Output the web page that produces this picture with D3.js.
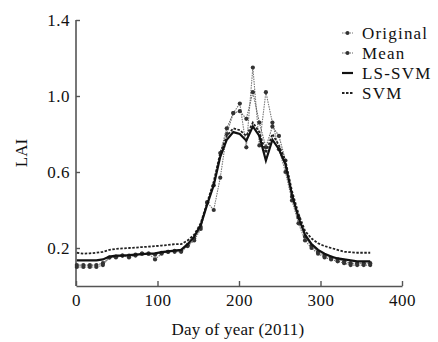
<!DOCTYPE html>
<html>
<head>
<meta charset="utf-8">
<script src="https://cdn.jsdelivr.net/npm/d3@7"></script>
<style>
  body { margin: 0; background: #fff; }
  svg text { font-family: "Liberation Serif", "DejaVu Serif", serif; fill: #111; }
</style>
</head>
<body>
<svg id="chart"></svg>
<script>
// 8-day composites for 2011
const days = d3.range(1, 362, 8);

const original = [0.10, 0.10, 0.10, 0.10, 0.11, 0.15, 0.15, 0.16, 0.15, 0.16, 0.17, 0.17, 0.14, 0.17, 0.18, 0.18,
  0.18, 0.21, 0.24, 0.30, 0.44, 0.40, 0.57, 0.80, 0.91, 0.96, 0.73, 1.15, 0.74, 1.02, 0.86, 0.72,
  0.60, 0.45, 0.33, 0.24, 0.20, 0.17, 0.15, 0.14, 0.13, 0.12, 0.11, 0.11, 0.11, 0.11];

const mean = [0.11, 0.11, 0.11, 0.11, 0.12, 0.15, 0.155, 0.16, 0.16, 0.165, 0.17, 0.17, 0.165, 0.175, 0.18, 0.185,
  0.185, 0.215, 0.25, 0.31, 0.44, 0.53, 0.70, 0.83, 0.91, 0.92, 0.88, 1.02, 0.86, 0.73, 0.84, 0.79,
  0.66, 0.47, 0.36, 0.26, 0.21, 0.18, 0.16, 0.15, 0.14, 0.13, 0.12, 0.12, 0.12, 0.12];

const lssvm = [0.135, 0.135, 0.135, 0.135, 0.14, 0.155, 0.16, 0.16, 0.162, 0.165, 0.168, 0.17, 0.172, 0.178, 0.182, 0.186,
  0.19, 0.22, 0.26, 0.32, 0.43, 0.53, 0.68, 0.77, 0.81, 0.80, 0.765, 0.84, 0.79, 0.66, 0.77, 0.72,
  0.64, 0.48, 0.36, 0.27, 0.22, 0.19, 0.17, 0.155, 0.145, 0.14, 0.135, 0.13, 0.13, 0.13];

const svm = [0.175, 0.17, 0.172, 0.175, 0.18, 0.19, 0.195, 0.198, 0.20, 0.202, 0.205, 0.207, 0.21, 0.213, 0.216, 0.22,
  0.22, 0.24, 0.27, 0.33, 0.44, 0.55, 0.70, 0.79, 0.83, 0.82, 0.79, 0.86, 0.81, 0.70, 0.80, 0.74,
  0.66, 0.50, 0.38, 0.29, 0.25, 0.225, 0.21, 0.20, 0.19, 0.18, 0.178, 0.175, 0.175, 0.175];

const yTicks = [0.2, 0.6, 1.0, 1.4];
const xTicks = [0, 100, 200, 300, 400];
const legendLabels = ['Original', 'Mean', 'LS-SVM', 'SVM'];

const width = 438, height = 342;
const margin = { top: 20, right: 36, bottom: 56, left: 76 };
const innerW = width - margin.left - margin.right;
const innerH = height - margin.top - margin.bottom;

const svg = d3.select('#chart').attr('width', width).attr('height', height);
const chart = svg.append('g').attr('transform', `translate(${margin.left},${margin.top})`);

const x = d3.scaleLinear().domain([0, 400]).range([0, innerW]);
const y = d3.scaleLinear().domain([0, 1.4]).range([innerH, 0]);

// axes, ticks point inwards
const xAxis = d3.axisBottom(x).tickValues(xTicks).tickSizeInner(-5).tickSizeOuter(0).tickPadding(8);
const yAxis = d3.axisLeft(y).tickValues(yTicks).tickFormat(d3.format('.1f')).tickSizeInner(-4).tickSizeOuter(0).tickPadding(6);

const xAxisG = chart.append('g').attr('transform', `translate(0,${innerH})`).call(xAxis);
const yAxisG = chart.append('g').call(yAxis);
[xAxisG, yAxisG].forEach(g => {
  g.select('.domain').attr('stroke', '#555').attr('stroke-width', 1.6);
  g.selectAll('.tick line').attr('stroke', '#555').attr('stroke-width', 1.4);
  g.selectAll('.tick text')
    .style('font-family', '"Liberation Serif", serif')
    .style('font-size', '17px')
    .style('letter-spacing', '0.5px')
    .attr('fill', '#111');
});
yAxisG.select('.domain').attr('d', `M0,${innerH}V${y(1.4)}`);

// axis titles
svg.append('text')
  .attr('x', margin.left + x(200) - 1)
  .attr('y', 335)
  .attr('text-anchor', 'middle')
  .style('font-size', '17px')
  .style('letter-spacing', '0.2px')
  .text('Day of year (2011)');

svg.append('text')
  .attr('transform', `translate(27,153) rotate(-90)`)
  .attr('text-anchor', 'middle')
  .style('font-size', '17px')
  .text('LAI');

const line = d3.line().x((d, i) => x(days[i])).y(d => y(d));

const series = [
  { name: 'Original', values: original, stroke: '#777', width: 1.1, dash: '1.5,1', marker: true },
  { name: 'Mean', values: mean, stroke: '#666', width: 1.1, dash: '1.5,1', marker: true },
  { name: 'SVM', values: svm, stroke: '#222', width: 1.8, dash: '2.5,1.5', marker: false },
  { name: 'LS-SVM', values: lssvm, stroke: '#111', width: 2.2, dash: null, marker: false }
];

series.forEach(s => {
  chart.append('path')
    .datum(s.values)
    .attr('fill', 'none')
    .attr('stroke', s.stroke)
    .attr('stroke-width', s.width)
    .attr('stroke-dasharray', s.dash)
    .attr('d', line);
  if (s.marker) {
    chart.selectAll(null)
      .data(s.values)
      .join('circle')
      .attr('cx', (d, i) => x(days[i]))
      .attr('cy', d => y(d))
      .attr('r', 2.1)
      .attr('fill', '#333');
  }
});

// legend
const legend = svg.append('g').attr('transform', 'translate(342,33)');
legendLabels.forEach((name, i) => {
  const s = series.find(d => d.name === name);
  const row = legend.append('g').attr('transform', `translate(0,${i * 20})`);
  row.append('line')
    .attr('x1', 0).attr('x2', 11).attr('y1', 0).attr('y2', 0)
    .attr('stroke', s.stroke)
    .attr('stroke-width', s.width)
    .attr('stroke-dasharray', s.dash);
  if (s.marker) row.append('circle').attr('cx', 5.5).attr('cy', 0).attr('r', 2).attr('fill', '#333');
  row.append('text')
    .attr('x', 20).attr('y', 0).attr('dy', '0.35em')
    .style('font-size', '17px')
    .style('letter-spacing', '1.2px')
    .text(name);
});
</script>
</body>
</html>
